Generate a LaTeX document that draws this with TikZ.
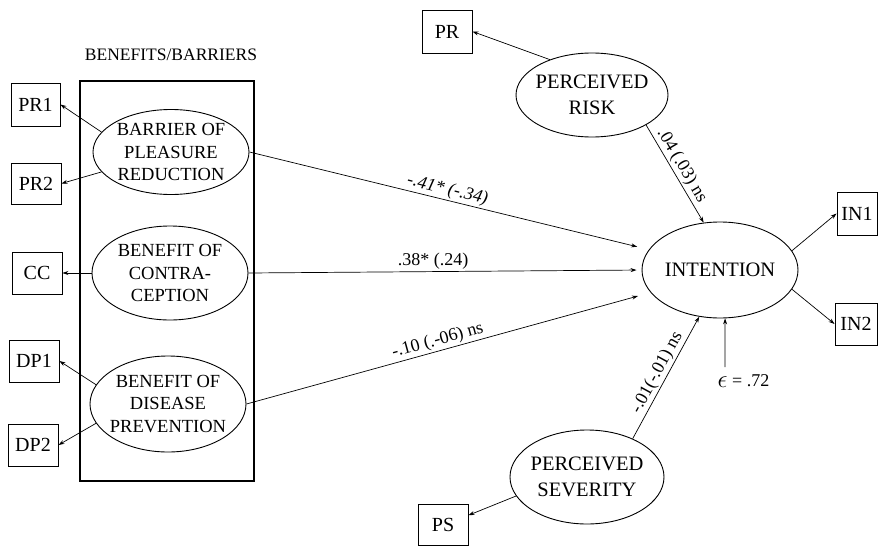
\documentclass[tikz,border=0pt]{standalone}
\usepackage{fontspec}
\usepackage{graphicx}
\setmainfont{Liberation Serif}
\usetikzlibrary{shapes.geometric,arrows.meta}
\begin{document}
\begin{tikzpicture}[x=1pt,y=-1pt,
  ell/.style={draw, ellipse, line width=0.9pt, inner sep=0pt},
  lt/.style={align=center, inner sep=0pt, font=\fontsize{18.5}{22.5}\selectfont},
  rt/.style={align=center, inner sep=0pt, font=\fontsize{20.5}{26}\selectfont},
  box/.style={draw, rectangle, line width=0.9pt, minimum width=50pt, minimum height=42pt, inner sep=0pt, font=\fontsize{20}{24}\selectfont},
  arr/.style={-{Stealth[length=6pt,width=4pt]}, line width=0.7pt},
  lab/.style={font=\fontsize{18}{20}\selectfont, inner sep=1.5pt},
  labi/.style={font=\fontsize{18}{20}\selectfont\itshape, inner sep=1.5pt},
]
\useasboundingbox (0,0) rectangle (878,546);

% group frame and title
\node[draw, line width=1.2pt, minimum width=174pt, minimum height=400pt, inner sep=0pt] (grp) at (167,281) {};
\node[font=\fontsize{17.5}{20}\selectfont] (title) at (171,55) {BENEFITS/BARRIERS};

% latent variables
\node[ell, minimum width=156pt, minimum height=85pt, label={[lt]center:{BARRIER OF\\PLEASURE\\REDUCTION}}] (bpr) at (171,152) {};
\node[ell, minimum width=156pt, minimum height=94pt, label={[lt]center:{BENEFIT OF\\CONTRA-\\CEPTION}}] (bcc) at (170,273) {};
\node[ell, minimum width=156pt, minimum height=96pt, label={[lt]center:{BENEFIT OF\\DISEASE\\PREVENTION}}] (bdp) at (168,404) {};
\node[ell, minimum width=152pt, minimum height=84pt, label={[rt]center:{PERCEIVED\\RISK}}] (risk) at (592,95) {};
\node[ell, minimum width=156pt, minimum height=96pt, label={[rt]center:{INTENTION}}] (int) at (720,270) {};
\node[ell, minimum width=154pt, minimum height=94pt, label={[rt]center:{PERCEIVED\\SEVERITY}}] (sev) at (587,477) {};

% indicators
\node[box, minimum width=49pt, minimum height=43pt] (pr1) at (35.5,104.5) {PR1};
\node[box, minimum height=41pt] (pr2) at (36,183.5) {PR2};
\node[box] (ccb) at (37,273) {CC};
\node[box] (dp1) at (34,361) {DP1};
\node[box] (dp2) at (33,445) {DP2};
\node[box, minimum height=43pt] (pr) at (447,31.5) {PR};
\node[box, minimum width=40pt, minimum height=43pt] (in1) at (857,213.5) {IN1};
\node[box, minimum width=42pt] (in2) at (856,324) {IN2};
\node[box, minimum height=41pt] (ps) at (443,524.5) {PS};

% measurement arrows
\draw[arr] (bpr.164) -- (pr1.east);
\draw[arr] (bpr.196) -- (pr2.east);
\draw[arr] (bcc.west) -- (ccb.east);
\draw[arr] (bdp.165) -- (dp1.east);
\draw[arr] (bdp.195) -- (dp2.east);
\draw[arr] (risk.140) -- (pr.east);
\draw[arr] (sev.195) -- (ps.20);
\draw[arr] (int.15) -- (in1.west);
\draw[arr] (int.-15) -- (in2.west);

% structural paths
\draw[arr, shorten >=12pt] (bpr.east) -- node[labi, sloped, above, pos=0.49] {-.41* (-.34)} (int.164);
\draw[arr, shorten >=5pt] (bcc.east) -- node[lab, above, pos=0.47] {.38* (.24)} (int.west);
\draw[arr, shorten >=13pt] (bdp.east) -- node[lab, sloped, above, pos=0.48] {-.10 (.-06) ns} (int.198);
\draw[arr] (risk.-29) -- node[lab, sloped, above, pos=0.47] {.04 (.03) ns} (int.109);
\draw[arr] (sev.40) -- node[lab, sloped, above, pos=0.5] {-.01(-.01) ns} (int.246);

% disturbance
\coordinate (e0) at (725,367);
\draw[arr] (e0) -- (int.276);
\node[lab, anchor=west] (eps) at (716,381) {\raisebox{-0.5pt}{\scalebox{1.45}{$\epsilon$}} = .72};
\end{tikzpicture}
\end{document}
